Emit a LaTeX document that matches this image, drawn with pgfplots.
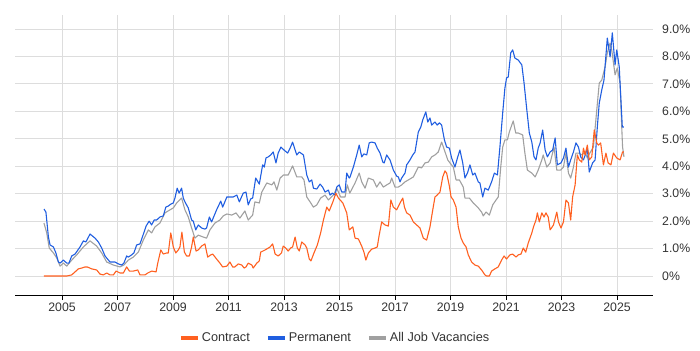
\documentclass[border=0pt]{standalone}
\usepackage{pgfplots}
\usepackage{pgfplotstable}
\pgfplotsset{compat=1.18}
\usepackage{fontspec}
\setmainfont{Liberation Sans}
\definecolor{contract}{RGB}{255,96,32}
\definecolor{perm}{RGB}{32,94,224}
\definecolor{alljobs}{RGB}{160,160,160}
\definecolor{gridc}{RGB}{221,221,221}
\definecolor{txt}{RGB}{51,51,51}

\pgfplotstableread{
x y
2004.35 2.44
2004.42 2.33
2004.51 1.42
2004.57 1.13
2004.69 1.06
2004.78 0.84
2004.87 0.51
2004.93 0.47
2005.05 0.58
2005.17 0.47
2005.25 0.47
2005.35 0.73
2005.47 0.80
2005.65 1.06
2005.77 1.28
2005.86 1.24
2006.01 1.53
2006.19 1.38
2006.31 1.24
2006.43 1.02
2006.55 0.73
2006.73 0.51
2006.91 0.51
2007.03 0.44
2007.15 0.40
2007.23 0.47
2007.33 0.73
2007.39 0.69
2007.51 0.77
2007.59 0.84
2007.69 1.13
2007.81 1.17
2007.91 1.46
2008.03 1.82
2008.14 2.00
2008.23 1.86
2008.32 2.04
2008.41 2.04
2008.53 2.15
2008.65 2.19
2008.74 2.51
2008.83 2.55
2008.92 2.62
2009.01 2.66
2009.07 2.84
2009.15 3.20
2009.22 3.02
2009.31 3.20
2009.37 2.84
2009.43 2.70
2009.55 2.48
2009.67 2.04
2009.73 2.00
2009.82 1.68
2009.91 1.86
2010.03 1.75
2010.15 1.71
2010.21 1.75
2010.31 2.15
2010.39 1.97
2010.57 2.41
2010.72 2.73
2010.79 2.51
2010.94 2.88
2011.05 2.88
2011.17 2.88
2011.30 2.95
2011.39 2.70
2011.53 3.02
2011.63 3.06
2011.71 2.59
2011.80 2.81
2011.87 2.84
2011.98 3.57
2012.11 3.35
2012.23 4.05
2012.29 3.97
2012.35 4.30
2012.43 4.34
2012.52 4.41
2012.61 4.52
2012.71 4.12
2012.79 4.48
2012.89 4.70
2013.00 4.59
2013.13 4.48
2013.22 4.66
2013.31 4.88
2013.40 4.59
2013.46 4.41
2013.55 4.52
2013.70 4.41
2013.82 3.68
2013.91 3.43
2014.00 3.50
2014.06 3.20
2014.18 3.17
2014.30 3.35
2014.39 3.24
2014.48 3.06
2014.60 3.13
2014.66 2.95
2014.74 3.02
2014.84 2.95
2014.90 3.24
2014.99 3.32
2015.08 3.06
2015.20 3.06
2015.26 3.75
2015.35 3.57
2015.38 3.61
2015.50 3.97
2015.62 4.41
2015.71 4.77
2015.80 4.34
2015.88 4.45
2015.98 4.41
2016.07 4.85
2016.16 4.88
2016.28 4.85
2016.36 4.66
2016.46 4.48
2016.56 4.15
2016.61 4.12
2016.70 4.41
2016.82 4.23
2016.94 3.86
2017.06 3.64
2017.12 3.61
2017.18 3.43
2017.24 3.57
2017.36 3.75
2017.42 4.05
2017.54 4.23
2017.64 4.41
2017.72 4.52
2017.84 5.25
2017.93 5.43
2018.00 5.69
2018.11 5.98
2018.18 5.61
2018.26 5.76
2018.32 5.50
2018.44 5.61
2018.52 5.50
2018.60 5.58
2018.68 5.50
2018.78 4.96
2018.86 4.70
2018.96 4.66
2019.04 4.30
2019.16 3.97
2019.26 4.34
2019.34 4.59
2019.44 4.12
2019.52 3.57
2019.61 3.75
2019.70 4.05
2019.80 3.68
2019.88 3.75
2020.00 3.43
2020.06 3.39
2020.16 2.88
2020.24 3.20
2020.36 3.13
2020.48 3.43
2020.58 3.75
2020.69 3.68
2020.78 4.70
2020.88 5.94
2020.96 6.85
2021.02 7.22
2021.08 7.25
2021.17 8.13
2021.24 8.24
2021.32 7.94
2021.44 7.87
2021.57 7.69
2021.65 7.03
2021.75 6.05
2021.84 5.21
2021.93 4.88
2022.01 4.34
2022.08 4.23
2022.16 4.66
2022.23 4.85
2022.32 5.32
2022.41 4.59
2022.49 4.34
2022.59 4.52
2022.68 4.59
2022.77 5.03
2022.85 4.05
2022.98 4.12
2023.07 4.30
2023.16 4.66
2023.25 3.97
2023.33 4.23
2023.43 4.52
2023.52 4.85
2023.61 4.70
2023.69 4.34
2023.79 4.23
2023.88 4.48
2023.93 4.66
2024.00 3.79
2024.12 4.12
2024.21 4.23
2024.29 5.43
2024.36 6.30
2024.45 6.78
2024.53 7.14
2024.65 8.67
2024.75 7.98
2024.83 8.86
2024.93 7.69
2024.99 8.24
2025.08 7.62
2025.19 5.43
2025.25 5.43
}\permtable

\pgfplotstableread{
x y
2004.35 1.93
2004.45 1.57
2004.54 1.02
2004.69 0.84
2004.81 0.66
2004.93 0.36
2005.05 0.47
2005.17 0.36
2005.35 0.58
2005.53 0.77
2005.77 1.06
2006.01 1.28
2006.25 1.09
2006.43 0.84
2006.61 0.51
2006.85 0.40
2007.09 0.33
2007.23 0.40
2007.39 0.58
2007.57 0.69
2007.75 0.87
2007.93 1.31
2008.11 1.68
2008.23 1.57
2008.35 1.79
2008.53 1.93
2008.71 2.30
2008.89 2.41
2009.01 2.48
2009.13 2.66
2009.31 2.84
2009.43 2.41
2009.55 2.15
2009.67 1.75
2009.79 1.38
2009.91 1.49
2010.09 1.42
2010.21 1.38
2010.33 1.68
2010.51 1.93
2010.69 2.04
2010.81 2.19
2010.94 2.26
2011.12 2.22
2011.27 2.30
2011.41 2.11
2011.59 2.37
2011.71 2.04
2011.87 2.22
2011.95 2.70
2012.11 2.66
2012.20 3.06
2012.38 3.39
2012.56 3.32
2012.64 3.43
2012.74 3.13
2012.86 3.57
2012.98 3.68
2013.15 3.68
2013.31 4.01
2013.46 3.61
2013.64 3.61
2013.72 3.50
2013.82 2.88
2013.94 2.70
2014.06 2.51
2014.18 2.59
2014.32 2.84
2014.48 2.95
2014.60 2.77
2014.78 2.95
2014.90 3.20
2015.04 2.88
2015.20 2.88
2015.28 3.32
2015.37 3.02
2015.56 3.39
2015.71 3.75
2015.80 3.43
2015.92 3.20
2016.04 3.57
2016.22 3.50
2016.34 3.24
2016.46 3.43
2016.58 3.24
2016.70 3.32
2016.82 3.39
2016.88 3.57
2017.00 3.24
2017.12 3.24
2017.24 3.32
2017.36 3.43
2017.48 3.50
2017.66 3.61
2017.84 3.97
2017.96 3.94
2018.08 4.12
2018.20 4.15
2018.32 4.34
2018.44 4.41
2018.56 4.52
2018.68 4.88
2018.78 4.59
2018.90 4.23
2018.98 4.12
2019.10 3.97
2019.20 3.50
2019.32 3.50
2019.46 3.24
2019.52 2.84
2019.68 2.84
2019.82 2.66
2020.00 2.48
2020.12 2.33
2020.18 2.19
2020.28 2.33
2020.40 2.22
2020.52 2.59
2020.64 2.77
2020.72 2.88
2020.81 3.97
2020.88 4.70
2020.96 4.96
2021.05 4.96
2021.12 5.25
2021.26 5.65
2021.35 5.21
2021.44 5.21
2021.60 5.14
2021.68 4.48
2021.77 3.86
2021.93 3.75
2022.05 3.61
2022.16 3.86
2022.29 4.23
2022.34 4.41
2022.47 3.97
2022.59 4.12
2022.73 4.70
2022.83 3.86
2022.97 3.86
2023.07 3.97
2023.16 4.48
2023.25 3.75
2023.33 3.57
2023.43 3.97
2023.52 4.48
2023.62 4.48
2023.73 4.41
2023.85 4.52
2023.93 4.30
2024.02 4.48
2024.15 4.70
2024.27 6.05
2024.36 7.03
2024.45 7.14
2024.57 7.62
2024.65 8.13
2024.75 8.49
2024.81 8.24
2024.93 7.33
2025.01 7.58
2025.11 7.03
2025.17 5.43
2025.20 4.70
2025.25 4.34
}\alltable

\pgfplotstableread{
x y
2004.35 0.00
2005.17 0.00
2005.35 0.04
2005.47 0.15
2005.59 0.26
2005.71 0.29
2005.83 0.33
2005.91 0.33
2006.07 0.26
2006.25 0.22
2006.37 0.07
2006.49 0.04
2006.61 0.11
2006.73 0.04
2006.85 0.04
2006.95 0.18
2007.09 0.11
2007.21 0.11
2007.33 0.33
2007.43 0.18
2007.57 0.18
2007.73 0.22
2007.81 0.04
2007.99 0.04
2008.09 0.11
2008.23 0.18
2008.39 0.15
2008.45 0.47
2008.56 0.95
2008.65 0.80
2008.77 0.84
2008.83 0.84
2008.92 1.57
2009.01 1.06
2009.10 0.84
2009.19 0.95
2009.25 1.06
2009.32 1.60
2009.41 0.87
2009.49 0.73
2009.59 0.73
2009.67 1.06
2009.73 1.42
2009.83 0.91
2009.91 0.95
2010.03 1.09
2010.15 1.17
2010.25 0.69
2010.36 0.77
2010.43 0.80
2010.57 0.62
2010.69 0.47
2010.79 0.33
2010.94 0.36
2011.05 0.51
2011.15 0.33
2011.23 0.33
2011.35 0.44
2011.48 0.40
2011.56 0.29
2011.63 0.33
2011.71 0.47
2011.84 0.40
2011.89 0.29
2012.02 0.47
2012.11 0.55
2012.16 0.87
2012.32 0.95
2012.50 1.06
2012.59 1.17
2012.68 0.80
2012.79 0.73
2012.91 0.84
2012.97 1.09
2013.06 1.02
2013.15 0.91
2013.24 1.02
2013.31 1.06
2013.40 1.42
2013.48 1.02
2013.55 0.91
2013.64 1.24
2013.76 1.13
2013.82 1.02
2013.91 0.62
2013.97 0.55
2014.08 0.84
2014.20 1.13
2014.32 1.57
2014.42 2.04
2014.54 2.51
2014.63 2.37
2014.76 2.70
2014.87 3.02
2014.96 2.84
2015.12 2.66
2015.26 2.30
2015.35 1.68
2015.48 1.79
2015.56 1.38
2015.68 1.35
2015.80 1.09
2015.88 0.87
2015.95 0.58
2016.04 0.84
2016.16 0.98
2016.28 1.02
2016.36 1.06
2016.43 1.49
2016.52 1.97
2016.64 1.86
2016.76 1.82
2016.85 2.77
2016.94 2.51
2017.06 2.41
2017.18 2.66
2017.28 2.84
2017.34 2.51
2017.42 2.30
2017.54 2.22
2017.66 1.97
2017.78 1.86
2017.90 1.75
2018.02 1.38
2018.14 1.31
2018.26 1.79
2018.36 2.41
2018.44 2.88
2018.52 2.95
2018.62 3.06
2018.72 3.61
2018.80 3.83
2018.86 3.75
2018.95 3.32
2019.02 2.88
2019.10 2.77
2019.20 2.51
2019.28 1.79
2019.38 1.38
2019.46 1.20
2019.56 1.06
2019.64 0.77
2019.76 0.51
2019.88 0.40
2020.00 0.36
2020.12 0.22
2020.24 0.04
2020.30 0.00
2020.40 0.00
2020.48 0.18
2020.60 0.26
2020.72 0.33
2020.84 0.58
2020.93 0.73
2021.02 0.62
2021.14 0.77
2021.24 0.80
2021.36 0.69
2021.44 0.77
2021.54 0.80
2021.62 1.02
2021.71 0.87
2021.80 1.20
2021.93 1.57
2021.99 1.79
2022.08 2.04
2022.13 2.30
2022.20 1.97
2022.29 2.30
2022.37 2.15
2022.44 2.30
2022.52 2.15
2022.59 1.68
2022.71 1.86
2022.83 2.33
2022.89 1.97
2022.98 1.75
2023.07 1.97
2023.16 2.77
2023.25 2.66
2023.33 2.04
2023.40 2.88
2023.49 3.32
2023.57 4.41
2023.64 4.23
2023.73 4.15
2023.79 4.66
2023.85 4.41
2023.93 4.77
2024.00 4.23
2024.09 4.34
2024.18 5.32
2024.27 4.85
2024.33 4.77
2024.41 4.85
2024.51 4.05
2024.60 4.48
2024.68 4.12
2024.78 4.05
2024.87 4.48
2024.99 4.30
2025.11 4.23
2025.20 4.52
2025.25 4.52
}\contracttable

\begin{document}
\begin{tikzpicture}[x=1bp,y=1bp]
\path[use as bounding box] (0,0) rectangle (700,350);
\begin{axis}[
  at={(15bp,55bp)}, anchor=south west,
  scale only axis, width=638bp, height=280bp,
  xmin=2003.306, xmax=2026.297, ymin=-0.692, ymax=9.51,
  axis x line*=bottom, axis y line*=right,
  axis line style={-},
  x axis line style={black, line width=1bp},
  y axis line style={draw=none},
  xtick={2005,2007,2009,2011,2013,2015,2017,2019,2021,2023,2025},
  xticklabels={2005,2007,2009,2011,2013,2015,2017,2019,2021,2023,2025},
  ytick={0,1,2,3,4,5,6,7,8,9},
  yticklabels={0\%,1.0\%,2.0\%,3.0\%,4.0\%,5.0\%,6.0\%,7.0\%,8.0\%,9.0\%},
  yticklabel pos=right,
  ytick style={draw=none},
  xtick style={black, line width=0.8bp},
  tick align=outside,
  major tick length=5bp,
  grid=major,
  major grid style={gridc, line width=0.8bp},
  tick label style={font=\fontsize{12.3bp}{14bp}\selectfont, text=txt},
  yticklabel style={anchor=west, inner sep=0pt, xshift=4bp},
  xticklabel style={inner sep=0pt, anchor=north, yshift=-3bp},
  legend style={at={(0.5016,-0.153)}, anchor=center, legend columns=3,
    draw=none, fill=none, font=\fontsize{12.7bp}{14bp}\selectfont, text=txt,
    /tikz/every even column/.append style={column sep=14bp}},
  legend image code/.code={\draw[#1, line width=4bp] (0bp,0bp) -- (17bp,0bp);},
  every axis plot/.append style={line width=1.1bp, line join=round, mark=none},
]
\addplot[alljobs, forget plot] table[x=x,y=y] {\alltable};
\addplot[perm, forget plot] table[x=x,y=y] {\permtable};
\addplot[contract, forget plot] table[x=x,y=y] {\contracttable};
\addlegendimage{contract}
\addlegendentry{Contract}
\addlegendimage{perm}
\addlegendentry{Permanent}
\addlegendimage{alljobs}
\addlegendentry{All Job Vacancies}
\end{axis}
\end{tikzpicture}
\end{document}
